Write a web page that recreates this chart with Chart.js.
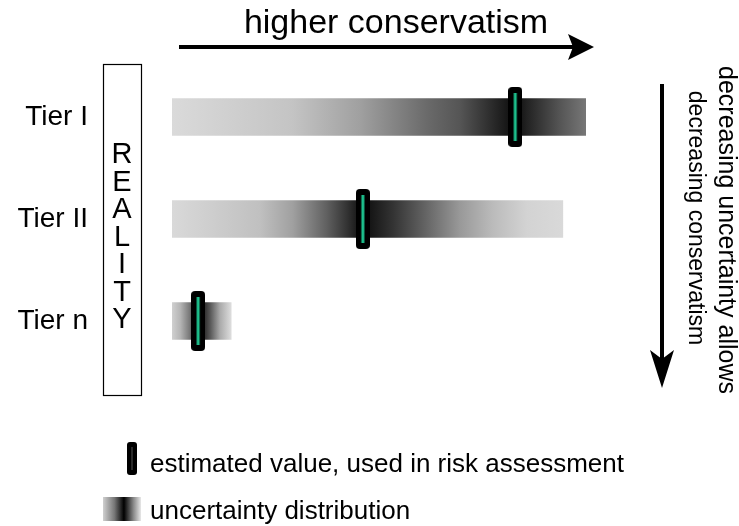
<!DOCTYPE html>
<html>
<head>
<meta charset="utf-8">
<script src="https://cdn.jsdelivr.net/npm/chart.js@4.4.1/dist/chart.umd.min.js"></script>
<style>
  html, body { margin: 0; padding: 0; background: #fff; }
  #wrap { width: 739px; height: 526px; }
</style>
</head>
<body>
<div id="wrap"><canvas id="chart" width="739" height="526"></canvas></div>
<script>
// data
const tiers = ["Tier I", "Tier II", "Tier n"];
const rangeStart = [0, 0, 0];
const rangeEnd = [100, 94.4, 14.3];
const estimates = [82.9, 46.1, 6.3];

const topLabel = "higher conservatism";
const sideLabels = ["decreasing uncertainty allows", "decreasing conservatism"];
const boxLabel = "REALITY";
const legendLabels = ["estimated value, used in risk assessment", "uncertainty distribution"];

const FONT = '"Liberation Sans", Arial, sans-serif';
const GREEN = "#1dbf8c";

// grey ramps along each bar (offset within the bar, colour)
const shades = [
  [[0, "#dadada"], [0.29, "#c4c4c4"], [0.454, "#a0a0a0"], [0.616, "#6a6a6a"], [0.696, "#555555"],
   [0.775, "#2a2a2a"], [0.829, "#0c0c0c"], [0.857, "#222222"], [0.937, "#555555"], [1, "#777777"]],
  [[0, "#d9d9d9"], [0.225, "#c0c0c0"], [0.309, "#a0a0a0"], [0.396, "#606060"], [0.448, "#333333"],
   [0.488, "#0c0c0c"], [0.565, "#333333"], [0.652, "#666666"], [0.737, "#999999"], [0.821, "#bbbbbb"],
   [0.908, "#d3d3d3"], [1, "#d9d9d9"]],
  [[0, "#d0d0d0"], [0.14, "#b5b5b5"], [0.3, "#777777"], [0.44, "#000000"], [0.64, "#555555"],
   [0.81, "#aaaaaa"], [1, "#dddddd"]],
];

function barGradient(ctx) {
  const chart = ctx.chart;
  if (!chart.chartArea) return "#999";
  const i = ctx.dataIndex;
  const x = chart.scales.x;
  const x0 = x.getPixelForValue(rangeStart[i]);
  const x1 = x.getPixelForValue(rangeEnd[i]);
  const g = chart.ctx.createLinearGradient(x0, 0, x1, 0);
  shades[i].forEach(([o, c]) => g.addColorStop(o, c));
  return g;
}

// marker glyph: black rounded rect with green core
function makeMarker() {
  const cv = document.createElement("canvas");
  cv.width = 14; cv.height = 60;
  const c = cv.getContext("2d");
  c.fillStyle = "#000";
  c.beginPath(); c.roundRect(0, 0, 14, 60, 4); c.fill();
  c.fillStyle = GREEN;
  c.fillRect(5.5, 6, 3, 48);
  return cv;
}

function arrow(c, x0, y0, x1, y1, len, hw, notch) {
  const a = Math.atan2(y1 - y0, x1 - x0);
  const bx = x1 - Math.cos(a) * (len - notch), by = y1 - Math.sin(a) * (len - notch);
  c.lineWidth = 4;
  c.beginPath(); c.moveTo(x0, y0); c.lineTo(bx, by); c.stroke();
  c.save();
  c.translate(x1, y1); c.rotate(a);
  c.beginPath();
  c.moveTo(0, 0);
  c.lineTo(-len, -hw);
  c.lineTo(-len + notch, 0);
  c.lineTo(-len, hw);
  c.closePath();
  c.fill();
  c.restore();
}

const decor = {
  id: "decor",
  afterDraw(chart) {
    const c = chart.ctx;
    c.save();
    c.fillStyle = "#000";
    c.strokeStyle = "#000";
    c.textBaseline = "alphabetic";

    // top arrow
    c.font = `34px ${FONT}`;
    c.textAlign = "center";
    c.fillText(topLabel, 396, 33);
    arrow(c, 179, 47, 594, 47, 26, 13, 5);

    // reality box
    c.lineWidth = 1.2;
    c.strokeRect(103.5, 64.5, 38, 331);
    c.font = `29px ${FONT}`;
    boxLabel.split("").forEach((ch, i) => c.fillText(ch, 122, 163 + i * 27.5));

    // side arrow and text
    arrow(c, 662, 84, 662, 388, 38, 12, 9);
    [[719, 230, 25], [689, 218, 23]].forEach(([px, py, fs], i) => {
      c.save();
      c.font = `${fs}px ${FONT}`;
      c.translate(px, py);
      c.rotate(Math.PI / 2);
      c.fillText(sideLabels[i], 0, 0);
      c.restore();
    });

    // legend
    c.textAlign = "left";
    c.font = `26px ${FONT}`;
    c.beginPath(); c.roundRect(127, 442, 10, 33, 3); c.fill();
    c.fillStyle = "#2a2a2a"; c.fillRect(131, 447, 2, 23);
    c.fillStyle = "#000";
    c.fillText(legendLabels[0], 150, 472);
    const g = c.createLinearGradient(103, 0, 141, 0);
    g.addColorStop(0, "#d0d0d0"); g.addColorStop(0.3, "#777"); g.addColorStop(0.55, "#000");
    g.addColorStop(0.8, "#888"); g.addColorStop(1, "#e8e8e8");
    c.fillStyle = g;
    c.fillRect(103, 497, 38, 24);
    c.fillStyle = "#000";
    c.fillText(legendLabels[1], 150, 519);
    c.restore();
  },
};

new Chart(document.getElementById("chart"), {
  type: "bar",
  data: {
    labels: tiers,
    datasets: [
      {
        label: "uncertainty distribution",
        data: tiers.map((_, i) => [rangeStart[i], rangeEnd[i]]),
        backgroundColor: barGradient,
        borderWidth: 0,
        barThickness: 37,
        grouped: false,
        order: 2,
      },
      {
        type: "line",
        label: "estimated value",
        data: estimates,
        showLine: false,
        pointStyle: makeMarker(),
        order: 1,
      },
    ],
  },
  options: {
    indexAxis: "y",
    responsive: false,
    animation: false,
    events: [],
    layout: { padding: { top: 66, bottom: 154, right: 153, left: 0 } },
    plugins: { legend: { display: false }, tooltip: { enabled: false } },
    scales: {
      x: { type: "linear", min: 0, max: 100, display: false },
      y: {
        type: "category",
        offset: true,
        grid: { display: false, drawTicks: false },
        border: { display: false },
        ticks: { padding: 84, color: "#000", font: { size: 28, family: FONT } },
        afterFit(s) {
          s.width = 172;
          s.paddingTop = 0;
          s.paddingBottom = 0;
        },
      },
    },
  },
  plugins: [decor],
});
</script>
</body>
</html>
